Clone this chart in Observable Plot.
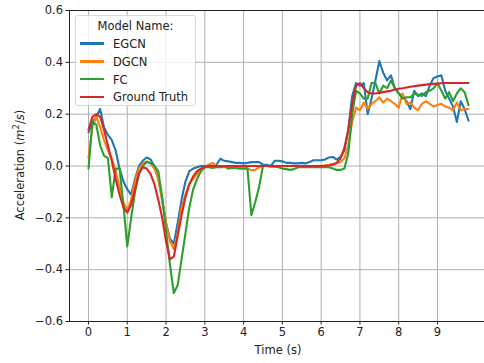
<!DOCTYPE html>
<html><head><meta charset="utf-8">
<script src="https://cdn.jsdelivr.net/npm/d3@7"></script>
<script src="https://cdn.jsdelivr.net/npm/@observablehq/plot@0.6"></script>
<style>
body{margin:0;background:#fff;}
#wrap{position:relative;width:484px;height:363px;overflow:hidden;font-family:"DejaVu Sans",sans-serif;color:#222;}
#wrap svg{position:absolute;left:0;top:0;}
.legend{position:absolute;left:75px;top:15px;width:121px;height:91px;box-sizing:border-box;border:1px solid #d6d6d6;border-radius:3px;background:rgba(255,255,255,0.8);font-size:11.5px;}
.legend .title{position:absolute;left:0;width:100%;top:3px;text-align:center;}
.legend .row{position:absolute;left:4px;height:14px;line-height:14px;white-space:nowrap;}
.legend .sw{display:inline-block;width:24px;height:2.5px;vertical-align:middle;margin-right:9px;position:relative;top:-1px;}
.xlabel{position:absolute;left:0;width:556px;top:343px;text-align:center;font-size:11.5px;}
.ylabel{position:absolute;left:19px;top:165px;font-size:11.5px;transform:translate(-50%,-50%) rotate(-90deg);white-space:nowrap;}
</style></head>
<body><div id="wrap"></div>
<script>
const time = [0.0,0.1,0.2,0.3,0.4,0.5,0.6,0.7,0.8,0.9,1.0,1.1,1.2,1.3,1.4,1.5,1.6,1.7,1.8,1.9,2.0,2.1,2.2,2.3,2.4,2.5,2.6,2.7,2.8,2.9,3.0,3.1,3.2,3.3,3.4,3.5,3.6,3.7,3.8,3.9,4.0,4.1,4.2,4.3,4.4,4.5,4.6,4.7,4.8,4.9,5.0,5.1,5.2,5.3,5.4,5.5,5.6,5.7,5.8,5.9,6.0,6.1,6.2,6.3,6.4,6.5,6.6,6.7,6.8,6.9,7.0,7.1,7.2,7.3,7.4,7.5,7.6,7.7,7.8,7.9,8.0,8.1,8.2,8.3,8.4,8.5,8.6,8.7,8.8,8.9,9.0,9.1,9.2,9.3,9.4,9.5,9.6,9.7,9.8];

const egcn = [0.13,0.17,0.19,0.22,0.15,0.12,0.10,0.06,-0.01,-0.06,-0.09,-0.11,-0.05,0.0,0.02,0.033,0.025,0.0,-0.05,-0.13,-0.22,-0.28,-0.30,-0.22,-0.13,-0.06,-0.02,-0.01,-0.005,0.0,0.0,0.002,0.0,0.005,0.028,0.02,0.018,0.015,0.012,0.012,0.01,0.012,0.015,0.015,0.015,0.005,0.005,0.0,0.02,0.02,0.018,0.012,0.012,0.01,0.01,0.012,0.01,0.015,0.022,0.022,0.022,0.025,0.033,0.035,0.025,0.035,0.06,0.14,0.27,0.32,0.31,0.32,0.20,0.26,0.33,0.405,0.36,0.33,0.35,0.30,0.28,0.27,0.25,0.22,0.29,0.27,0.28,0.27,0.31,0.34,0.345,0.35,0.29,0.26,0.23,0.17,0.25,0.22,0.175];

const dgcn = [0.03,0.15,0.19,0.15,0.10,0.06,0.03,-0.02,-0.08,-0.14,-0.17,-0.13,-0.06,-0.01,0.01,0.018,0.01,-0.01,-0.05,-0.13,-0.22,-0.29,-0.32,-0.26,-0.16,-0.11,-0.07,-0.05,-0.03,-0.015,-0.005,0.005,0.012,0.0,-0.005,-0.005,-0.005,-0.005,-0.006,-0.006,-0.007,-0.008,-0.017,-0.015,-0.005,0.0,0.0,0.0,0.0,0.0,0.0,0.0,0.0,0.0,0.0,0.0,0.0,0.0,0.0,0.0,0.0,0.003,0.005,0.008,0.01,0.015,0.03,0.08,0.17,0.225,0.215,0.245,0.22,0.24,0.25,0.265,0.245,0.26,0.25,0.24,0.225,0.28,0.24,0.245,0.225,0.215,0.24,0.25,0.24,0.23,0.235,0.24,0.23,0.225,0.215,0.245,0.215,0.22,0.22];

const fc = [-0.01,0.17,0.16,0.08,0.04,0.03,-0.12,-0.01,-0.01,-0.15,-0.31,-0.20,-0.10,-0.03,0.0,0.015,0.012,0.0,-0.02,-0.12,-0.25,-0.38,-0.49,-0.46,-0.36,-0.26,-0.16,-0.09,-0.05,-0.02,-0.005,-0.005,-0.008,-0.005,-0.005,0.0,-0.01,-0.008,-0.008,-0.01,-0.01,-0.01,-0.19,-0.14,-0.08,0.0,0.0,-0.003,-0.003,-0.005,-0.01,-0.012,-0.015,-0.012,-0.005,-0.005,-0.005,-0.005,-0.005,-0.005,-0.005,-0.005,-0.005,-0.01,-0.015,-0.015,-0.01,0.05,0.20,0.29,0.28,0.26,0.26,0.32,0.32,0.28,0.31,0.30,0.33,0.30,0.28,0.26,0.265,0.265,0.28,0.275,0.27,0.285,0.29,0.30,0.32,0.29,0.26,0.285,0.25,0.28,0.30,0.285,0.235];

const truth = [0.14,0.19,0.20,0.19,0.14,0.08,0.02,-0.05,-0.11,-0.16,-0.18,-0.15,-0.09,-0.03,-0.005,-0.01,-0.03,-0.07,-0.13,-0.20,-0.29,-0.36,-0.35,-0.27,-0.19,-0.12,-0.07,-0.04,-0.02,-0.01,-0.005,0.0,0.0,0.0,0.0,0.0,0.0,0.0,0.0,0.0,0.0,0.0,0.0,0.0,0.0,0.0,0.0,0.0,0.0,0.0,0.0,0.0,0.0,0.0,0.0,0.0,0.0,0.0,0.0,0.0,0.0,0.0,0.002,0.005,0.012,0.03,0.07,0.14,0.24,0.31,0.32,0.30,0.285,0.28,0.28,0.282,0.285,0.288,0.29,0.295,0.298,0.30,0.303,0.306,0.308,0.31,0.312,0.314,0.316,0.317,0.318,0.319,0.32,0.32,0.32,0.32,0.32,0.32,0.32];

const seriesNames = ["EGCN", "DGCN", "FC", "Ground Truth"];
const seriesColors = ["#1f77b4", "#ff7f0e", "#2ca02c", "#d62728"];
const xTicks = [0, 1, 2, 3, 4, 5, 6, 7, 8, 9];
const yTicks = [-0.6, -0.4, -0.2, 0.0, 0.2, 0.4, 0.6];
const legendTitle = "Model Name:";
const xLabel = "Time (s)";

const seriesValues = [egcn, dgcn, fc, truth];
const rows = seriesNames.flatMap((name, i) => time.map((t, j) => ({t, v: seriesValues[i][j], name})));

const chart = Plot.plot({
  width: 484, height: 363,
  marginLeft: 69, marginRight: -3, marginTop: 10, marginBottom: 42,
  style: {fontFamily: "DejaVu Sans, sans-serif", fontSize: "11.5px", background: "transparent", color: "#222"},
  x: {domain: [-0.49, 10.29], range: [69, 487]},
  y: {domain: [-0.6, 0.6], range: [321, 10]},
  color: {domain: seriesNames, range: seriesColors},
  marks: [
    Plot.gridX(xTicks, {stroke: "#b0b0b0", strokeOpacity: 1, strokeWidth: 1}),
    Plot.gridY(yTicks, {stroke: "#b0b0b0", strokeOpacity: 1, strokeWidth: 1}),
    Plot.line(rows, {x: "t", y: "v", z: "name", stroke: "name", strokeWidth: 2.1, strokeLinejoin: "round"}),
    Plot.frame({stroke: "#222", strokeWidth: 1}),
    Plot.axisX(xTicks, {tickSize: 3.5, tickPadding: 3, tickFormat: d => String(d), label: null, stroke: "#222"}),
    Plot.axisY(yTicks, {tickSize: 3.5, tickPadding: 3, tickFormat: d3.format(".1f"), label: null, stroke: "#222"})
  ]
});

const wrap = document.getElementById("wrap");
wrap.appendChild(chart);

const xl = document.createElement("div");
xl.className = "xlabel"; xl.textContent = xLabel; wrap.appendChild(xl);
const yl = document.createElement("div");
yl.className = "ylabel";
yl.innerHTML = 'Acceleration (<i>m</i><sup style="font-size:8.5px">2</sup>/<i>s</i>)';
wrap.appendChild(yl);

const lg = document.createElement("div");
lg.className = "legend";
const tt = document.createElement("div"); tt.className = "title"; tt.textContent = legendTitle; lg.appendChild(tt);
seriesNames.forEach((n, i) => {
  const r = document.createElement("div"); r.className = "row";
  r.style.top = (21 + i * 17.8) + "px";
  const sw = document.createElement("span"); sw.className = "sw"; sw.style.background = seriesColors[i];
  r.appendChild(sw); r.appendChild(document.createTextNode(n));
  lg.appendChild(r);
});
wrap.appendChild(lg);
</script>
</body></html>
